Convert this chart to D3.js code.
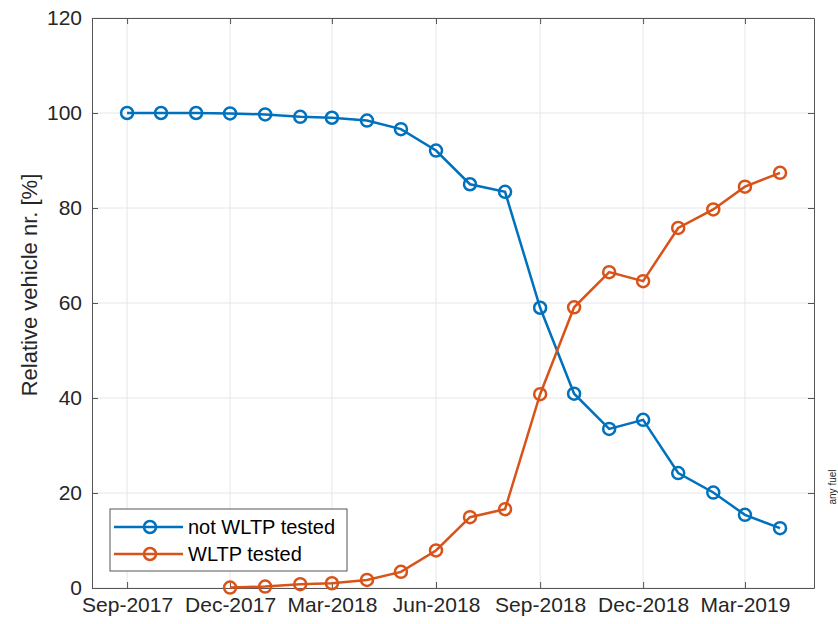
<!DOCTYPE html>
<html><head><meta charset="utf-8">
<script src="https://cdn.jsdelivr.net/npm/d3@7"></script>
<style>body{margin:0;background:#fff;} svg{display:block;font-family:"Liberation Sans",Arial,sans-serif;}</style>
</head><body><svg id="c" width="838" height="624"></svg>
<script>
const months = ["2017-09","2017-10","2017-11","2017-12","2018-01","2018-02","2018-03","2018-04","2018-05","2018-06","2018-07","2018-08","2018-09","2018-10","2018-11","2018-12","2019-01","2019-02","2019-03","2019-04"];
const notWLTP = [100,100,100,99.9,99.7,99.2,99.0,98.4,96.6,92.1,85.0,83.4,59.0,40.9,33.5,35.4,24.2,20.1,15.4,12.6];
const wltpMonths = ["2017-12","2018-01","2018-02","2018-03","2018-04","2018-05","2018-06","2018-07","2018-08","2018-09","2018-10","2018-11","2018-12","2019-01","2019-02","2019-03","2019-04"];
const wltp = [0.1,0.3,0.8,1.0,1.7,3.4,7.9,14.9,16.6,40.8,59.1,66.5,64.6,75.8,79.7,84.5,87.4];
const xTickMonths = ["2017-09","2017-12","2018-03","2018-06","2018-09","2018-12","2019-03"];
const yTicks = [0,20,40,60,80,100,120];
const seriesNames = ["not WLTP tested","WLTP tested"];
const colors = ["#0072BD","#D95319"];

const parse = d3.utcParse("%Y-%m");
const fmt = d3.utcFormat("%b-%Y");
const L=92, R=814, T=18, B=588;
const svg = d3.select("#c");
const x = d3.scaleUtc().domain([parse("2017-08"), parse("2019-05")]).range([L,R]);
const y = d3.scaleLinear().domain([0,120]).range([B,T]);

const g = svg.append("g");
g.selectAll(".gx").data(xTickMonths).join("line")
  .attr("x1",d=>x(parse(d))).attr("x2",d=>x(parse(d))).attr("y1",T).attr("y2",B)
  .attr("stroke","#e6e6e6").attr("stroke-width",1);
g.selectAll(".gy").data(yTicks).join("line")
  .attr("x1",L).attr("x2",R).attr("y1",d=>y(d)).attr("y2",d=>y(d))
  .attr("stroke","#e6e6e6").attr("stroke-width",1);

const axColor="#555";
const xa = svg.append("g").attr("transform",`translate(0,${B})`)
  .call(d3.axisBottom(x).tickValues(xTickMonths.map(parse)).tickFormat(fmt).tickSizeInner(-6).tickSizeOuter(0).tickPadding(9));
const xa2 = svg.append("g").attr("transform",`translate(0,${T})`)
  .call(d3.axisTop(x).tickValues(xTickMonths.map(parse)).tickFormat("").tickSizeInner(-6).tickSizeOuter(0));
const ya = svg.append("g").attr("transform",`translate(${L},0)`)
  .call(d3.axisLeft(y).tickValues(yTicks).tickSizeInner(-6).tickSizeOuter(0).tickPadding(10));
const ya2 = svg.append("g").attr("transform",`translate(${R},0)`)
  .call(d3.axisRight(y).tickValues(yTicks).tickFormat("").tickSizeInner(-6).tickSizeOuter(0));
[xa,xa2,ya,ya2].forEach(a=>{
  a.selectAll("path,line").attr("stroke",axColor);
  a.selectAll("text").attr("fill","#262626").style("font-family","Liberation Sans, Arial, sans-serif");
});
xa.selectAll("text").style("font-size","21px");
ya.selectAll("text").style("font-size","21px");

svg.append("text").attr("transform",`translate(37,285) rotate(-90)`)
  .attr("text-anchor","middle").attr("fill","#262626").style("font-size","22px").text("Relative vehicle nr. [%]");

svg.append("text").attr("transform",`translate(836,487) rotate(-90)`)
  .attr("text-anchor","middle").attr("fill","#262626").style("font-size","10px").text("any fuel");

const line = d3.line().x(d=>x(d[0])).y(d=>y(d[1]));
const sets = [months.map((m,i)=>[parse(m),notWLTP[i]]), wltpMonths.map((m,i)=>[parse(m),wltp[i]])];
sets.forEach((s,k)=>{
  svg.append("path").datum(s).attr("d",line).attr("fill","none").attr("stroke",colors[k]).attr("stroke-width",2.5);
  svg.append("g").selectAll("circle").data(s).join("circle")
    .attr("cx",d=>x(d[0])).attr("cy",d=>y(d[1])).attr("r",6)
    .attr("fill","none").attr("stroke",colors[k]).attr("stroke-width",2.5);
});

const lg = svg.append("g");
lg.append("rect").attr("x",110).attr("y",509).attr("width",237).attr("height",62)
  .attr("fill","#fff").attr("stroke","#555").attr("stroke-width",1);
seriesNames.forEach((n,k)=>{
  const yy = 527 + k*27;
  lg.append("line").attr("x1",114).attr("x2",183).attr("y1",yy).attr("y2",yy).attr("stroke",colors[k]).attr("stroke-width",2.5);
  lg.append("circle").attr("cx",150).attr("cy",yy).attr("r",6).attr("fill","none").attr("stroke",colors[k]).attr("stroke-width",2.5);
  lg.append("text").attr("x",188).attr("y",yy+7).attr("fill","#000").style("font-size","20px").text(n);
});
</script></body></html>
